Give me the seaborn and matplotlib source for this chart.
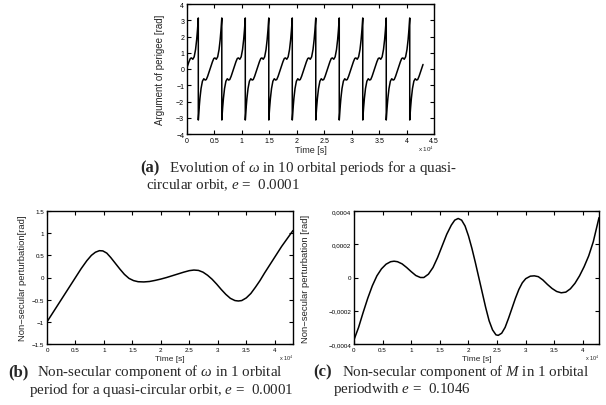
import numpy as np
import pandas as pd
import seaborn as sns
import matplotlib.pyplot as plt
from matplotlib.ticker import FuncFormatter, MultipleLocator

# (a) argument of perigee over 10 orbital periods (time in units of 1e4 s)
top_time = [
    0.000, 0.006, 0.036, 0.061, 0.081, 0.106, 0.131, 0.156, 0.176, 0.191, 0.206,
    0.206, 0.221, 0.236, 0.256, 0.281, 0.306, 0.331, 0.351, 0.376, 0.406, 0.434, 0.464, 0.489, 0.509, 0.534, 0.559, 0.584, 0.604, 0.619, 0.634,
    0.634, 0.649, 0.664, 0.684, 0.709, 0.734, 0.759, 0.779, 0.804, 0.834, 0.862, 0.892, 0.917, 0.937, 0.962, 0.987, 1.012, 1.032, 1.047, 1.062,
    1.062, 1.077, 1.092, 1.112, 1.137, 1.162, 1.187, 1.207, 1.232, 1.262, 1.290, 1.320, 1.345, 1.365, 1.390, 1.415, 1.440, 1.460, 1.475, 1.490,
    1.490, 1.505, 1.520, 1.540, 1.565, 1.590, 1.615, 1.635, 1.660, 1.690, 1.718, 1.748, 1.773, 1.793, 1.818, 1.843, 1.868, 1.888, 1.903, 1.918,
    1.918, 1.933, 1.948, 1.968, 1.993, 2.018, 2.043, 2.063, 2.088, 2.118, 2.146, 2.176, 2.201, 2.221, 2.246, 2.271, 2.296, 2.316, 2.331, 2.346,
    2.346, 2.361, 2.376, 2.396, 2.421, 2.446, 2.471, 2.491, 2.516, 2.546, 2.574, 2.604, 2.629, 2.649, 2.674, 2.699, 2.724, 2.744, 2.759, 2.774,
    2.774, 2.789, 2.804, 2.824, 2.849, 2.874, 2.899, 2.919, 2.944, 2.974, 3.002, 3.032, 3.057, 3.077, 3.102, 3.127, 3.152, 3.172, 3.187, 3.202,
    3.202, 3.217, 3.232, 3.252, 3.277, 3.302, 3.327, 3.347, 3.372, 3.402, 3.430, 3.460, 3.485, 3.505, 3.530, 3.555, 3.580, 3.600, 3.615, 3.630,
    3.630, 3.645, 3.660, 3.680, 3.705, 3.730, 3.755, 3.775, 3.800, 3.830, 3.858, 3.888, 3.913, 3.933, 3.958, 3.983, 4.008, 4.028, 4.043, 4.058,
    4.058, 4.073, 4.088, 4.108, 4.133, 4.158, 4.183, 4.203, 4.228, 4.258, 4.286, 4.300,
]
top_omega = [
    0.09, 0.15, 0.45, 0.65, 0.68, 0.60, 0.75, 1.2, 1.8, 2.4, 3.14,
    -3.14, -2.4, -1.8, -1.2, -0.75, -0.60, -0.68, -0.65, -0.45, -0.15, 0.15, 0.45, 0.65, 0.68, 0.60, 0.75, 1.2, 1.8, 2.4, 3.14,
    -3.14, -2.4, -1.8, -1.2, -0.75, -0.60, -0.68, -0.65, -0.45, -0.15, 0.15, 0.45, 0.65, 0.68, 0.60, 0.75, 1.2, 1.8, 2.4, 3.14,
    -3.14, -2.4, -1.8, -1.2, -0.75, -0.60, -0.68, -0.65, -0.45, -0.15, 0.15, 0.45, 0.65, 0.68, 0.60, 0.75, 1.2, 1.8, 2.4, 3.14,
    -3.14, -2.4, -1.8, -1.2, -0.75, -0.60, -0.68, -0.65, -0.45, -0.15, 0.15, 0.45, 0.65, 0.68, 0.60, 0.75, 1.2, 1.8, 2.4, 3.14,
    -3.14, -2.4, -1.8, -1.2, -0.75, -0.60, -0.68, -0.65, -0.45, -0.15, 0.15, 0.45, 0.65, 0.68, 0.60, 0.75, 1.2, 1.8, 2.4, 3.14,
    -3.14, -2.4, -1.8, -1.2, -0.75, -0.60, -0.68, -0.65, -0.45, -0.15, 0.15, 0.45, 0.65, 0.68, 0.60, 0.75, 1.2, 1.8, 2.4, 3.14,
    -3.14, -2.4, -1.8, -1.2, -0.75, -0.60, -0.68, -0.65, -0.45, -0.15, 0.15, 0.45, 0.65, 0.68, 0.60, 0.75, 1.2, 1.8, 2.4, 3.14,
    -3.14, -2.4, -1.8, -1.2, -0.75, -0.60, -0.68, -0.65, -0.45, -0.15, 0.15, 0.45, 0.65, 0.68, 0.60, 0.75, 1.2, 1.8, 2.4, 3.14,
    -3.14, -2.4, -1.8, -1.2, -0.75, -0.60, -0.68, -0.65, -0.45, -0.15, 0.15, 0.45, 0.65, 0.68, 0.60, 0.75, 1.2, 1.8, 2.4, 3.14,
    -3.14, -2.4, -1.8, -1.2, -0.75, -0.60, -0.68, -0.65, -0.45, -0.15, 0.15, 0.28,
]

# (b) non-secular part of omega, 1 orbital period
b_time = [0.0, 0.2, 0.4, 0.6, 0.7, 0.78, 0.85, 0.92, 0.98, 1.05, 1.12, 1.2, 1.28, 1.36, 1.44,
          1.52, 1.6, 1.7, 1.8, 1.9, 2.0, 2.1, 2.2, 2.3, 2.4, 2.5, 2.58, 2.66, 2.74, 2.82,
          2.9, 2.98, 3.06, 3.14, 3.22, 3.3, 3.36, 3.42, 3.5, 3.58, 3.66, 3.74, 3.82, 3.92,
          4.02, 4.12, 4.22, 4.32]
b_pert = [-1.0, -0.6, -0.2, 0.2, 0.38, 0.5, 0.57, 0.605, 0.6, 0.55, 0.45, 0.32, 0.19, 0.07, -0.02,
          -0.07, -0.095, -0.1, -0.09, -0.065, -0.035, 0.0, 0.04, 0.08, 0.12, 0.155, 0.168, 0.16, 0.12, 0.05,
          -0.04, -0.15, -0.27, -0.38, -0.47, -0.52, -0.53, -0.52, -0.46, -0.36, -0.22, -0.07, 0.1, 0.3,
          0.5, 0.7, 0.88, 1.06]

# (c) non-secular part of M, 1 orbital period
c_time = [0.0, 0.08, 0.16, 0.24, 0.32, 0.40, 0.48, 0.56, 0.64, 0.70, 0.76, 0.84, 0.92, 1.0,
          1.08, 1.16, 1.22, 1.3, 1.38, 1.46, 1.54, 1.62, 1.70, 1.76, 1.82, 1.88, 1.94, 2.0,
          2.06, 2.12, 2.18, 2.24, 2.30, 2.36, 2.42, 2.48, 2.52, 2.58, 2.64, 2.70, 2.76, 2.82,
          2.88, 2.94, 3.0, 3.08, 3.15, 3.22, 3.3, 3.38, 3.46, 3.54, 3.62, 3.70, 3.78, 3.86,
          3.94, 4.02, 4.10, 4.18, 4.28]
c_pert = [-3.75e-4, -3.0e-4, -2.1e-4, -1.25e-4, -0.5e-4, 0.1e-4, 0.52e-4, 0.8e-4, 0.95e-4, 0.98e-4,
          0.95e-4, 0.82e-4, 0.6e-4, 0.35e-4, 0.12e-4, 0.0, 0.0, 0.2e-4, 0.6e-4, 1.2e-4, 1.9e-4,
          2.6e-4, 3.15e-4, 3.45e-4, 3.55e-4, 3.45e-4, 3.1e-4, 2.5e-4, 1.75e-4, 0.9e-4, 0.0, -0.9e-4,
          -1.8e-4, -2.6e-4, -3.15e-4, -3.45e-4, -3.48e-4, -3.35e-4, -3.0e-4, -2.45e-4, -1.85e-4,
          -1.25e-4, -0.72e-4, -0.32e-4, -0.07e-4, 0.08e-4, 0.1e-4, 0.05e-4, -0.15e-4, -0.42e-4,
          -0.66e-4, -0.84e-4, -0.92e-4, -0.88e-4, -0.68e-4, -0.35e-4, 0.1e-4, 0.65e-4, 1.3e-4,
          2.15e-4, 3.6e-4]

sns.set_style("ticks")
plt.rcParams["font.family"] = ["Liberation Sans", "DejaVu Sans"]
plt.rcParams["mathtext.fontset"] = "custom"
plt.rcParams["mathtext.rm"] = "Liberation Serif"
plt.rcParams["mathtext.it"] = "Liberation Serif:italic"
plt.rcParams["mathtext.bf"] = "Liberation Serif:bold"

W, H = 606, 406
fig = plt.figure(figsize=(W / 100, H / 100), dpi=100)


def box(l, t, r, b):
    return [l / W, 1 - b / H, (r - l) / W, (b - t) / H]


def g_fmt(v, pos):
    return f"{v:g}".replace("-", "\u2212")


def comma_fmt(v, pos):
    if abs(v) < 1e-12:
        return "0"
    return f"{v:.4f}".replace(".", ",").replace("-", "\u2212")


def style(ax, size):
    ax.tick_params(direction="in", top=True, right=True, length=3, width=0.8,
                   labelsize=size, pad=2, colors="black")
    for s in ax.spines.values():
        s.set_linewidth(1.0)
        s.set_color("black")


ax_a = fig.add_axes(box(187, 5, 434, 135))
sns.lineplot(x=top_time, y=top_omega, ax=ax_a, color="black", linewidth=1.1,
             sort=False, estimator=None)
ax_a.set_xlim(0, 4.5)
ax_a.set_ylim(-4, 4)
ax_a.xaxis.set_major_locator(MultipleLocator(0.5))
ax_a.yaxis.set_major_locator(MultipleLocator(1))
ax_a.xaxis.set_major_formatter(FuncFormatter(g_fmt))
ax_a.yaxis.set_major_formatter(FuncFormatter(g_fmt))
style(ax_a, 5)
ax_a.set_xlabel("Time [s]", fontsize=6.5, labelpad=1)
ax_a.set_ylabel("Argument of perigee [rad]", fontsize=7)
ax_a.yaxis.set_label_coords(-0.09, 0.5)
ax_a.text(1.0, -0.11, r"x 10$^4$", transform=ax_a.transAxes, ha="right", va="center",
          fontsize=4.5)

ax_b = fig.add_axes(box(47, 212, 293, 345))
sns.lineplot(x=b_time, y=b_pert, ax=ax_b, color="black", linewidth=1.1,
             sort=False, estimator=None)
ax_b.set_xlim(0, 4.32)
ax_b.set_ylim(-1.5, 1.5)
ax_b.xaxis.set_major_locator(MultipleLocator(0.5))
ax_b.yaxis.set_major_locator(MultipleLocator(0.5))
ax_b.xaxis.set_major_formatter(FuncFormatter(g_fmt))
ax_b.yaxis.set_major_formatter(FuncFormatter(g_fmt))
style(ax_b, 4.5)
ax_b.set_xlabel("Time [s]", fontsize=6, labelpad=2)
ax_b.set_ylabel("Non\u2212secular perturbation[rad]", fontsize=6.8)
ax_b.yaxis.set_label_coords(-0.082, 0.5)
ax_b.text(1.0, -0.1, r"x 10$^4$", transform=ax_b.transAxes, ha="right", va="center",
          fontsize=4)

ax_c = fig.add_axes(box(354, 212, 599, 345))
sns.lineplot(x=c_time, y=c_pert, ax=ax_c, color="black", linewidth=1.1,
             sort=False, estimator=None)
ax_c.set_xlim(0, 4.28)
ax_c.set_ylim(-0.0004, 0.0004)
ax_c.xaxis.set_major_locator(MultipleLocator(0.5))
ax_c.yaxis.set_major_locator(MultipleLocator(0.0002))
ax_c.xaxis.set_major_formatter(FuncFormatter(g_fmt))
ax_c.yaxis.set_major_formatter(FuncFormatter(comma_fmt))
style(ax_c, 4.5)
ax_c.set_xlabel("Time [s]", fontsize=6, labelpad=2)
ax_c.set_ylabel("Non\u2212secular perturbation [rad]", fontsize=6.8)
ax_c.yaxis.set_label_coords(-0.18, 0.5)
ax_c.text(1.0, -0.1, r"x 10$^4$", transform=ax_c.transAxes, ha="right", va="center",
          fontsize=4)

serif = "Liberation Serif"


def caption(x, y, tag, body, line2, x2, gap):
    fig.text(x / W, 1 - y / H, tag, fontsize=12, fontweight="bold", family=serif, va="center")
    fig.text((x + 29) / W, 1 - y / H, body, fontsize=10.8, family=serif, va="center")
    fig.text(x2 / W, 1 - (y + gap) / H, line2, fontsize=10.8, family=serif, va="center")


caption(140, 168, "(a)", r"Evolution of $\omega$ in 10 orbital periods for a quasi-",
        r"circular orbit, $e$ =  0.0001", 146, 17)
caption(8, 372, "(b)", r"Non-secular component of $\omega$ in 1 orbital",
        r"period for a quasi-circular orbit, $e$ =  0.0001", 29, 18)
caption(313, 372, "(c)", r"Non-secular component of $M$ in 1 orbital",
        r"periodwith $e$ =  0.1046", 333, 18)

fig.savefig("out.png", dpi=100)
